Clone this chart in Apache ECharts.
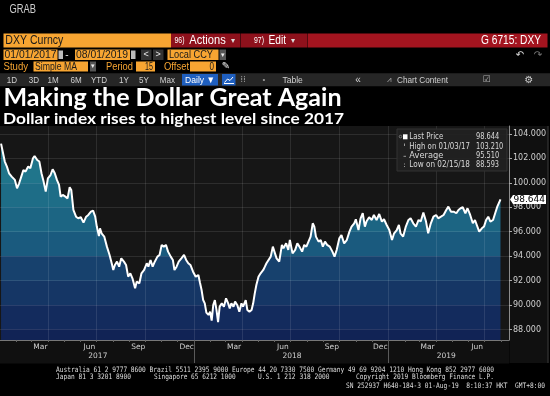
<!DOCTYPE html>
<html><head><meta charset="utf-8">
<script src="https://cdn.jsdelivr.net/npm/echarts@6/dist/echarts.min.js"></script>
<style>html,body{margin:0;padding:0;background:#000;}#c{width:550px;height:396px;}</style>
</head><body><div id="c"></div>
<script>
// ---------- DATA ----------
const dates = [
'2017-01-03','2017-01-10','2017-01-14','2017-01-18','2017-01-23','2017-01-26','2017-01-29','2017-02-02','2017-02-06','2017-02-10',
'2017-02-14','2017-02-18','2017-02-23','2017-02-27','2017-03-04','2017-03-07','2017-03-12','2017-03-16','2017-03-20','2017-03-24',
'2017-03-28','2017-04-01','2017-04-06','2017-04-10','2017-04-14','2017-04-18','2017-04-22','2017-04-25','2017-04-29','2017-05-04',
'2017-05-08','2017-05-12','2017-05-15','2017-05-19','2017-05-24','2017-05-28','2017-06-02','2017-06-07','2017-06-12','2017-06-16',
'2017-06-21','2017-06-25','2017-06-29','2017-07-02','2017-07-06','2017-07-08','2017-07-11','2017-07-16','2017-07-21','2017-07-26',
'2017-07-30','2017-08-02','2017-08-05','2017-08-09','2017-08-13','2017-08-17','2017-08-22','2017-08-26','2017-08-30','2017-09-03',
'2017-09-07','2017-09-12','2017-09-15','2017-09-20','2017-09-24','2017-09-29','2017-10-04','2017-10-07','2017-10-11','2017-10-15',
'2017-10-19','2017-10-24','2017-10-28','2017-11-01','2017-11-05','2017-11-09','2017-11-13','2017-11-18','2017-11-22','2017-11-25',
'2017-11-29','2017-12-03','2017-12-08','2017-12-13','2017-12-17','2017-12-21','2017-12-25','2017-12-30','2018-01-04','2018-01-09',
'2018-01-12','2018-01-15','2018-01-18','2018-01-21','2018-01-24','2018-01-28','2018-01-31','2018-02-03','2018-02-06','2018-02-09',
'2018-02-12','2018-02-15','2018-02-18','2018-02-22','2018-02-26','2018-03-02','2018-03-06','2018-03-09','2018-03-12','2018-03-16',
'2018-03-19','2018-03-23','2018-03-27','2018-03-31','2018-04-03','2018-04-08','2018-04-11','2018-04-15','2018-04-19','2018-04-22',
'2018-04-25','2018-04-28','2018-05-02','2018-05-06','2018-05-11','2018-05-14','2018-05-17','2018-05-20','2018-05-25','2018-05-29',
'2018-06-02','2018-06-05','2018-06-10','2018-06-15','2018-06-18','2018-06-23','2018-06-27','2018-06-30','2018-07-05','2018-07-10',
'2018-07-14','2018-07-18','2018-07-23','2018-07-27','2018-07-31','2018-08-04','2018-08-08','2018-08-12','2018-08-15','2018-08-18',
'2018-08-23','2018-08-27','2018-08-31','2018-09-04','2018-09-08','2018-09-13','2018-09-18','2018-09-22','2018-09-26','2018-10-01',
'2018-10-05','2018-10-10','2018-10-15','2018-10-20','2018-10-24','2018-10-29','2018-11-01','2018-11-06','2018-11-10','2018-11-14',
'2018-11-18','2018-11-21','2018-11-26','2018-12-01','2018-12-05','2018-12-10','2018-12-15','2018-12-20','2018-12-24','2018-12-29',
'2019-01-03','2019-01-08','2019-01-12','2019-01-17','2019-01-21','2019-01-24','2019-01-29','2019-02-03','2019-02-08','2019-02-12',
'2019-02-17','2019-02-22','2019-02-27','2019-03-03','2019-03-08','2019-03-13','2019-03-17','2019-03-22','2019-03-27','2019-04-01',
'2019-04-05','2019-04-10','2019-04-15','2019-04-20','2019-04-24','2019-04-29','2019-05-04','2019-05-09','2019-05-13','2019-05-17',
'2019-05-21','2019-05-26','2019-05-30','2019-06-04','2019-06-09','2019-06-13','2019-06-16','2019-06-21','2019-06-26','2019-06-30',
'2019-07-04','2019-07-08','2019-07-12','2019-07-17','2019-07-21','2019-07-25','2019-07-31'
];
const values = [
103.21,101.74,101.33,100.78,100.51,100.37,100.24,99.55,99.96,100.51,
101.05,100.92,101.33,101.19,102.01,102.20,101.87,101.74,100.78,100.10,
99.28,100.37,100.64,101.11,100.78,100.24,99.83,98.87,99.01,98.87,
98.73,99.64,99.42,97.78,97.23,97.10,97.18,96.74,97.23,97.37,
97.64,97.73,97.23,96.42,95.65,96.28,95.87,95.60,94.78,94.10,
93.42,92.87,93.28,93.55,93.14,93.82,93.55,93.28,92.32,92.60,
92.19,91.37,91.91,91.78,92.60,92.87,93.42,93.14,93.69,93.14,
93.55,93.96,94.10,94.92,94.78,94.92,94.37,93.96,93.69,92.87,
93.14,93.55,93.82,94.10,93.69,93.42,93.28,92.73,92.32,92.46,
91.83,91.23,90.41,90.14,89.38,89.19,89.46,88.72,90.01,90.41,
89.60,88.593,89.87,90.14,89.87,90.55,90.14,89.73,90.14,89.87,
90.28,90.01,89.46,90.14,89.87,90.41,89.60,89.46,89.60,90.14,
90.96,91.64,92.32,92.60,92.87,93.14,93.42,93.55,93.96,94.78,
94.23,93.82,93.55,94.92,94.64,95.05,94.51,95.32,94.23,94.51,
95.05,94.78,94.37,94.92,94.78,95.19,95.60,96.69,96.42,95.60,
95.19,95.32,94.78,95.19,94.92,94.78,94.37,93.96,94.51,95.46,
95.73,95.05,95.32,96.01,96.42,96.69,97.02,96.14,97.10,97.51,
96.42,96.83,97.18,96.96,97.37,96.96,97.45,96.83,97.02,96.55,
96.14,95.32,95.87,96.14,96.55,95.87,95.60,96.42,96.96,97.10,
96.69,96.42,96.96,96.83,97.56,96.83,95.87,96.69,97.23,97.37,
97.10,97.23,97.37,97.78,98.05,97.64,97.64,97.51,97.78,97.92,
98.00,97.51,97.92,97.37,96.69,96.96,97.10,96.01,96.28,96.42,
96.96,97.23,96.83,96.96,97.51,98.05,98.644
];
const yTicks = [88,90,92,94,96,98,100,102,104];
const MONTH_ABBR = ['Jan','Feb','Mar','Apr','May','Jun','Jul','Aug','Sep','Oct','Nov','Dec'];
const monthLabelDates = ['2017-03-18','2017-06-18','2017-09-18','2017-12-18','2018-03-17','2018-06-17','2018-09-17','2018-12-17','2019-03-16','2019-06-17'];
const yearLabels = ['2017','2018','2019'];
const yearLabelDates = ['2017-07-04','2018-07-04','2019-04-20'];
const yearStartDates = ['2018-01-01','2019-01-01'];
const gridDates = ['2017-04-01','2017-07-01','2017-10-01','2018-01-01','2018-04-01','2018-07-01','2018-10-01','2019-01-01','2019-04-01','2019-07-01'];
const axisStart = '2017-01-01', axisEnd = '2019-08-16';
const yMin = 87.14, yMax = 104.65;
const lastPrice = 98.644;
const legendRows = [['Last Price','98.644'],['High on 01/03/17','103.210'],['Average','95.510'],['Low on 02/15/18','88.593']];

// ---------- HELPERS ----------
function ts(s){const [y,m,d]=s.split('-').map(Number);return new Date(y,m-1,d).getTime();}
const mctx = document.createElement('canvas').getContext('2d');
function T(x,y,str,o={}){
  const size=o.size||10, fam=o.family||'Liberation Sans', weight=o.bold?'bold':'normal';
  let sx=o.sx||1;
  if(o.w){ mctx.font = weight+' '+size+'px "'+fam+'"'; sx = o.w / mctx.measureText(str).width; }
  return {type:'text', x:x, y:y, scaleX:sx, z:o.z||50, silent:true,
    style:{x:0,y:0,text:str,fill:o.color||'#fff',fontSize:size,fontFamily:fam,fontWeight:weight,
      align:o.align||'left',verticalAlign:o.va||'middle'}};
}
function R(x,y,w,h,fill,o={}){
  return {type:'rect', z:(o.z!==undefined?o.z:40), silent:true, shape:{x:x,y:y,width:w,height:h},
    style:{fill:fill, stroke:o.stroke||null, lineWidth:o.lw||0}};
}
function L(x1,y1,x2,y2,color,o={}){
  return {type:'line', z:(o.z!==undefined?o.z:45), silent:true, shape:{x1:x1,y1:y1,x2:x2,y2:y2}, style:{stroke:color, lineWidth:o.lw||1}};
}

const chart = echarts.init(document.getElementById('c'), null, {renderer:'canvas'});
const monthStarts = [];
for (let y=2017; y<=2019; y++) for (let m=0; m<12; m++){ const t=new Date(y,m,1).getTime(); if (t>ts(axisStart) && t<=ts(axisEnd)) monthStarts.push(t); }

const option = {
  backgroundColor:'#000',
  animation:false,
  grid:{left:0,right:41,top:126,bottom:56,show:true,backgroundColor:'#161616',borderWidth:0},
  xAxis:[
    {type:'value',min:ts(axisStart),max:ts(axisEnd),position:'bottom',scale:true,
     axisLine:{show:true,onZero:false,lineStyle:{color:'#777',width:1}},
     axisTick:{show:true,customValues:monthStarts,length:2,lineStyle:{color:'#666'}},
     axisLabel:{customValues:monthLabelDates.map(ts),formatter:v=>MONTH_ABBR[new Date(v).getMonth()],
       color:'#cfcfcf',fontSize:7.5,fontFamily:'DejaVu Sans',margin:3,hideOverlap:false,showMinLabel:true,showMaxLabel:true},
     splitLine:{show:false}},
    {type:'value',min:ts(axisStart),max:ts(axisEnd),position:'bottom',offset:0,scale:true,
     axisLine:{show:false,onZero:false},
     axisTick:{show:false},
     axisLabel:{customValues:yearLabelDates.map(ts),formatter:v=>yearLabels.find(s=>+s===new Date(v).getFullYear()),
       color:'#cfcfcf',fontSize:7.5,fontFamily:'DejaVu Sans',margin:12,hideOverlap:false,showMinLabel:true,showMaxLabel:true},
     splitLine:{show:false}}
  ],
  yAxis:{type:'value',position:'right',min:yMin,max:yMax,scale:true,
    axisLine:{show:true,onZero:false,lineStyle:{color:'#8c8c8c'}},
    axisTick:{show:true,customValues:yTicks,length:3,lineStyle:{color:'#aaa'}},
    axisLabel:{customValues:yTicks,formatter:v=>v.toFixed(3),color:'#d0d0d0',fontSize:8,fontFamily:'DejaVu Sans',margin:4,showMinLabel:true,showMaxLabel:true,hideOverlap:false},
    splitLine:{show:false}},
  series:[{
    type:'line', xAxisIndex:0, yAxisIndex:0,
    data:dates.map((d,i)=>[ts(d),values[i]]),
    showSymbol:false, symbol:'none',
    lineStyle:{color:'#ffffff',width:2},
    areaStyle:{color:'#1b6281',opacity:1},
    z:3,
    markLine:{silent:true,symbol:['none','none'],label:{show:false},animation:false,
      lineStyle:{color:'rgba(255,255,255,0.1)',width:1,type:'solid'},
      emphasis:{disabled:true},
      data:[...yTicks.map(v=>({yAxis:v})),...gridDates.map(d=>({xAxis:ts(d)}))]}
  }]
};
chart.setOption(option);

const bandEdges = [102,100,98,96,94,92,90,88];
const bandColors = ['#227b8f','#20758b','#1e6d87','#1c6583','#1a5a7e','#17416d','#153665','#132b5d','#112355'];
const yTop = chart.convertToPixel({yAxisIndex:0}, yMax);
const yBot = chart.convertToPixel({yAxisIndex:0}, yMin);
const off = v => (chart.convertToPixel({yAxisIndex:0}, v) - yTop)/(yBot-yTop);
const stops = [];
for (let i=0;i<bandColors.length;i++){
  const a = i===0?0:off(bandEdges[i-1]);
  const b = i===bandColors.length-1?1:off(bandEdges[i]);
  stops.push({offset:a,color:bandColors[i]},{offset:b,color:bandColors[i]});
}
const grad = {type:'linear',x:0,y:yTop,x2:0,y2:yBot,global:true,colorStops:stops};

const lpY = chart.convertToPixel({yAxisIndex:0}, lastPrice);
const axisX = chart.convertToPixel({xAxisIndex:0}, ts(axisEnd));

const ORANGE = '#f7a532', DARK='#1a1a1a', RED1='#8e111c', RED2='#a3141f';
const g = [];
g.push(R(axisX+0.5,126,548-axisX,237,'#101010',{z:-10}));
g.push(R(0,340.5,axisX,23,'#101010',{z:-10}));
g.push(L(548,126,548,363,'#3a3a3a',{z:-9}));
yearStartDates.forEach(d=>{ const x=Math.round(chart.convertToPixel({xAxisIndex:0}, ts(d)))+0.5; g.push(L(x,341,x,363,'#5a5a5a',{z:5})); });
g.push(T(9.5,10,'GRAB',{size:12,color:'#cfcfcf',w:26.5}));
g.push(R(3.5,33.5,167.5,14,ORANGE));
g.push(T(5.3,40.8,'DXY Curncy',{size:13,color:DARK,w:58}));
g.push(R(171,33.5,69,14,RED1));
g.push(R(240.5,33.5,66.5,14,RED1));
g.push(R(307.5,33.5,240,14,RED2));
g.push(T(174.5,41,'96)',{size:9,color:'#fff',w:10}));
g.push(T(189.3,40.8,'Actions',{size:13,color:'#fff',w:36.4}));
g.push(T(231,41,'▾',{size:8,color:'#ddd'}));
g.push(T(254,41,'97)',{size:9,color:'#fff',w:10}));
g.push(T(268.5,40.8,'Edit',{size:13,color:'#fff',w:17.5}));
g.push(T(290.5,41,'▾',{size:8,color:'#ddd'}));
g.push(T(541,40.8,'G 6715: DXY',{size:13,color:'#fff',w:60,align:'right'}));
g.push(R(3.5,49.5,54,10.5,ORANGE));
g.push(T(4.5,55,'01/01/2017',{size:11,color:DARK,w:52}));
g.push(R(58.5,50.5,4.5,8.5,'#bbbbbb'));
g.push(T(67,55,'-',{size:10,color:'#ddd',align:'center'}));
g.push(R(75,49.5,55,10.5,ORANGE));
g.push(T(76,55,'08/01/2019',{size:11,color:DARK,w:52}));
g.push(R(131,50.5,4.5,8.5,'#bbbbbb'));
g.push(R(141,49.5,10.5,10.5,'#333'));
g.push(T(146.2,55,'<',{size:9,color:'#eee',align:'center'}));
g.push(R(153,49.5,10.5,10.5,'#333'));
g.push(T(158.2,55,'>',{size:9,color:'#eee',align:'center'}));
g.push(R(167.5,49.5,51,10.5,ORANGE));
g.push(T(169,55,'Local CCY',{size:11,color:DARK,w:44}));
g.push(R(219.5,49.5,6.5,10.5,'#555'));
g.push(T(222.7,55,'▾',{size:7,color:'#eee',align:'center'}));
g.push(T(520,55,'↶',{size:10,color:'#ddd',align:'center',family:'DejaVu Sans'}));
g.push(T(538,55,'↷',{size:10,color:'#777',align:'center',family:'DejaVu Sans'}));
g.push(T(3.5,66.5,'Study',{size:11,color:ORANGE,w:24.5}));
g.push(R(33.5,61.5,54.5,10,ORANGE));
g.push(T(35,66.5,'Simple MA',{size:11,color:DARK,w:42}));
g.push(R(90,61.5,6,10,'#555'));
g.push(T(93,66.5,'▾',{size:7,color:'#eee',align:'center'}));
g.push(T(106,66.5,'Period',{size:11,color:ORANGE,w:27}));
g.push(R(136,61.5,19,10,ORANGE));
g.push(T(153,66.5,'15',{size:11,color:DARK,align:'right',w:8}));
g.push(T(164,66.5,'Offset',{size:11,color:ORANGE,w:25}));
g.push(R(190,61.5,26,10,ORANGE));
g.push(T(214,66.5,'0',{size:11,color:DARK,align:'right',w:4.5}));
g.push(T(226,66.5,'✎',{size:10,color:'#eee',align:'center',family:'DejaVu Sans'}));
g.push(R(0,73.3,550,13,'#262626'));
[['1D',12],['3D',34],['1M',53],['6M',76],['YTD',99],['1Y',124],['5Y',144],['Max',167.5]].forEach(([s,x])=>g.push(T(x,80,s,{size:9.5,color:'#d0d0d0',align:'center',sx:0.85})));
g.push(R(182,74,36,11.5,'#1f5fbf'));
g.push(T(200,80,'Daily ▼',{size:9.5,color:'#fff',align:'center',sx:0.9}));
g.push(R(222,74,13.5,11.5,'#1f5fbf'));
g.push({type:'polyline',z:50,silent:true,shape:{points:[[224.5,82.5],[227.5,79],[230,80.5],[233,77]]},style:{stroke:'#fff',lineWidth:1,fill:null}});
g.push(L(224,83.5,234,83.5,'#fff',{z:50}));
g.push(T(243,80,'⁞⁞',{size:9,color:'#999',align:'center',family:'DejaVu Sans'}));
g.push(T(264,80,'•',{size:8,color:'#999',align:'center'}));
g.push(T(292.6,80,'Table',{size:9.5,color:'#d0d0d0',align:'center',sx:0.9}));
g.push(T(358,80,'«',{size:10,color:'#d0d0d0',align:'center'}));
g.push(T(389,80,'⩘',{size:8,color:'#aaa',align:'center',family:'DejaVu Sans'}));
g.push(T(397,80,'Chart Content',{size:9.5,color:'#d0d0d0',w:51}));
g.push(T(486.6,80,'☑',{size:9,color:'#aaa',align:'center',family:'DejaVu Sans'}));
g.push(T(529,80,'⚙',{size:10,color:'#ccc',align:'center',family:'DejaVu Sans'}));
g.push(T(3.5,98.5,'Making the Dollar Great Again',{size:24,bold:true,family:'Lato',color:'#fff',w:338}));
g.push(T(3,118.5,'Dollar index rises to highest level since 2017',{size:15.5,bold:true,family:'Lato',color:'#fff',w:341}));
g.push(R(397,129,110,42,'rgba(34,34,34,0.92)',{stroke:'#333',lw:1,z:60}));
g.push({type:'circle',z:61,silent:true,shape:{cx:400.5,cy:136.6,r:1.3},style:{fill:null,stroke:'#888',lineWidth:0.8}});
g.push(R(403,134.3,4.5,5,'#fff',{z:61}));
g.push(L(404.5,143.5,404.5,146,'#999',{z:61}));
g.push(L(403.5,156.3,406,156.3,'#999',{z:61}));
g.push(L(404.5,163.5,404.5,164.5,'#999',{z:61}));
g.push(L(404.5,166,404.5,167,'#999',{z:61}));
const rowY=[136.7,146.5,156,165.3];
const labW=[34,60.7,34,60.7], valW=[23.3,27.3,23.3,23];
legendRows.forEach((r,i)=>{
  g.push(T(409.3,rowY[i],r[0],{size:8,family:'DejaVu Sans',color:'#d8d8d8',w:labW[i],z:62}));
  g.push(T(476,rowY[i],r[1],{size:8,family:'DejaVu Sans',color:'#d8d8d8',w:valW[i],z:62}));
});
g.push({type:'polygon',z:70,silent:true,shape:{points:[[axisX+1,lpY],[axisX+4,lpY-4.5],[546,lpY-4.5],[546,lpY+4.5],[axisX+4,lpY+4.5]]},style:{fill:'#fff'}});
g.push(T(545,lpY+0.3,lastPrice.toFixed(3),{size:8,family:'DejaVu Sans',color:'#000',align:'right',w:31.5,z:71}));
const FF='DejaVu Sans Mono', FC='#dedede';
g.push(T(56,369.8,'Australia 61 2 9777 8600 Brazil 5511 2395 9000 Europe 44 20 7330 7500 Germany 49 69 9204 1210 Hong Kong 852 2977 6000',{size:7.5,family:FF,color:FC,w:438}));
g.push(T(56,377.5,'Japan 81 3 3201 8900',{size:7.5,family:FF,color:FC,w:75}));
g.push(T(154,377.5,'Singapore 65 6212 1000',{size:7.5,family:FF,color:FC,w:81.6}));
g.push(T(258,377.5,'U.S. 1 212 318 2000',{size:7.5,family:FF,color:FC,w:71.5}));
g.push(T(356,377.5,'Copyright 2019 Bloomberg Finance L.P.',{size:7.5,family:FF,color:FC,w:138}));
g.push(T(346,385.6,'SN 252937 H640-184-3 01-Aug-19  8:10:37 HKT  GMT+8:00',{size:7.5,family:FF,color:FC,w:199}));

chart.setOption({series:[{areaStyle:{color:grad,opacity:1}}], graphic:{elements:g}});
</script>
</body></html>
